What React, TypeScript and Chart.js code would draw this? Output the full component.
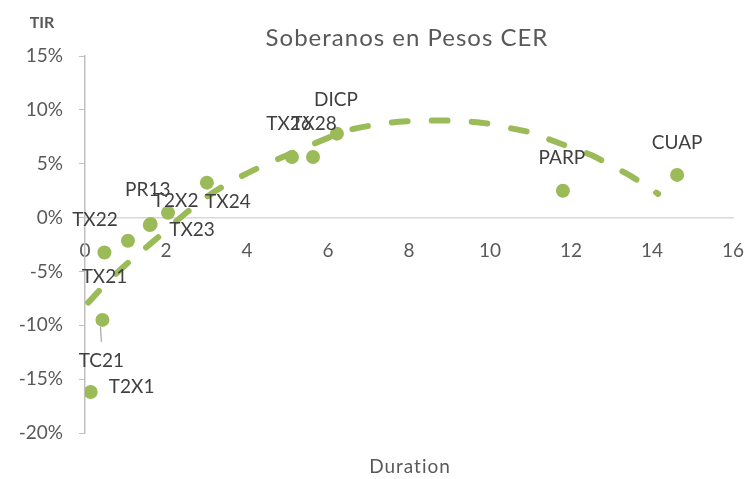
import React, { useEffect, useRef } from "react";
import { Chart, registerables } from "chart.js";

Chart.register(...registerables);

// ---- Data ----
const BOND_NAMES = ["T2X1", "TC21", "TX21", "TX22", "PR13", "T2X2", "TX23", "TX24", "TX26", "TX28", "DICP", "PARP", "CUAP"];
const BOND_DURATION = [0.14, 0.43, 0.48, 1.06, 1.6, 1.62, 2.05, 3.01, 5.11, 5.63, 6.22, 11.8, 14.62];
const BOND_TIR = [-16.2, -9.5, -3.24, -2.15, -0.69, -0.6, 0.45, 3.24, 5.63, 5.63, 7.79, 2.49, 3.96];

const TREND_X = [0.08, 0.5, 1, 1.5, 2, 2.5, 3, 3.5, 4, 4.5, 5, 5.5, 6, 6.5, 7, 7.5, 8, 8.5, 9, 9.5, 10, 10.5, 11, 11.5, 12, 12.5, 13, 13.5, 14.15];
const TREND_Y = [-7.9, -6.2, -4.4, -2.8, -1.2, 0.45, 1.9, 3.1, 4.1, 5.0, 5.8, 6.6, 7.4, 8.1, 8.5, 8.8, 8.95, 9.0, 9.0, 8.9, 8.7, 8.3, 7.9, 7.2, 6.5, 5.8, 4.8, 3.8, 2.2];

const X_MIN = 0;
const X_MAX = 16;
const X_STEP = 2;
const Y_MIN = -20;
const Y_MAX = 15;
const Y_STEP = 5;

const TITLE = "Soberanos en Pesos CER";
const Y_TITLE = "TIR";
const X_TITLE = "Duration";

// ---- Styles / label placement (pixel offsets from the point centre) ----
const GREEN = "#9BBB59";
const FONT = "Lato, 'Open Sans', sans-serif";
const LABEL_OFFSETS: Record<string, [number, number]> = {
  T2X1: [41, -5],
  TC21: [-1, 41],
  TX21: [0, 24],
  TX22: [-33, -21],
  PR13: [-2, -35],
  T2X2: [25, -23],
  TX23: [24, 17],
  TX24: [21, 19],
  TX26: [-3, -33],
  TX28: [1, -33],
  DICP: [-1, -34],
  PARP: [-1, -33],
  CUAP: [0, -32],
};

const textPlugin = {
  id: "customText",
  afterDatasetsDraw(chart: any) {
    const ctx = chart.ctx as CanvasRenderingContext2D;
    const meta = chart.getDatasetMeta(1);
    ctx.save();
    // data labels
    ctx.font = `19px ${FONT}`;
    ctx.fillStyle = "#404040";
    ctx.textAlign = "center";
    ctx.textBaseline = "middle";
    meta.data.forEach((pt: any, i: number) => {
      const name = BOND_NAMES[i];
      const off = LABEL_OFFSETS[name] || [0, -33];
      if (name === "TC21") {
        ctx.strokeStyle = "#A6A6A6";
        ctx.lineWidth = 1.2;
        ctx.beginPath();
        ctx.moveTo(pt.x - 2, pt.y + 7);
        ctx.lineTo(pt.x - 1, pt.y + 22);
        ctx.stroke();
      }
      ctx.fillText(name, pt.x + off[0], pt.y + off[1]);
    });
    // titles
    ctx.fillStyle = "#595959";
    ctx.font = `24px ${FONT}`;
    (ctx as any).letterSpacing = "1px";
    ctx.fillText(TITLE, 407, 38);
    ctx.font = `19px ${FONT}`;
    ctx.fillText(X_TITLE, 410, 467);
    (ctx as any).letterSpacing = "0px";
    ctx.font = `bold 16px ${FONT}`;
    ctx.fillText(Y_TITLE, 42, 23);
    ctx.restore();
  },
};

export default function App() {
  const ref = useRef<HTMLCanvasElement | null>(null);
  useEffect(() => {
    if (!ref.current) return;
    const chart = new Chart(ref.current, {
      type: "scatter",
      data: {
        datasets: [
          {
            type: "line",
            data: TREND_X.map((x, i) => ({ x, y: TREND_Y[i] })),
            borderColor: GREEN,
            borderWidth: 6,
            borderDash: [16, 24],
            borderCapStyle: "round",
            pointRadius: 0,
            tension: 0.4,
            fill: false,
          } as any,
          {
            type: "scatter",
            data: BOND_DURATION.map((x, i) => ({ x, y: BOND_TIR[i] })),
            backgroundColor: GREEN,
            borderWidth: 0,
            pointRadius: 7,
            pointHoverRadius: 7,
          },
        ],
      },
      options: {
        responsive: false,
        animation: false,
        devicePixelRatio: 1,
        layout: { padding: { left: 0, top: 56, right: 11, bottom: 46 } },
        plugins: {
          legend: { display: false },
          tooltip: { enabled: false },
          title: { display: false },
        },
        scales: {
          x: {
            type: "linear",
            position: { y: 0 } as any,
            min: X_MIN,
            max: X_MAX,
            ticks: {
              stepSize: X_STEP,
              padding: 22,
              color: "#595959",
              font: { family: FONT, size: 19 },
              maxRotation: 0,
              autoSkip: false,
            },
            grid: { display: true, drawOnChartArea: false, drawTicks: false },
            border: { display: true, color: "#D9D9D9", width: 1.5 },
            afterFit: (s: any) => {
              s.paddingLeft = 0;
              s.paddingRight = 0;
            },
          },
          y: {
            type: "linear",
            min: Y_MIN,
            max: Y_MAX,
            ticks: {
              stepSize: Y_STEP,
              padding: 16,
              color: "#595959",
              font: { family: FONT, size: 19 },
              callback: (v: any) => `${v}%`,
            },
            grid: { drawOnChartArea: false, drawTicks: true, tickLength: 6, color: "#BFBFBF" },
            border: { display: true, color: "#BFBFBF", width: 1.5 },
            afterFit: (s: any) => {
              s.width = 85;
              s.paddingTop = 0;
              s.paddingBottom = 0;
            },
          },
        },
      } as any,
      plugins: [textPlugin],
    });
    return () => chart.destroy();
  }, []);
  return (
    <div style={{ position: "fixed", left: 0, top: 0, width: 744, height: 479, background: "#fff" }}>
      <canvas ref={ref} width={744} height={479} />
    </div>
  );
}
